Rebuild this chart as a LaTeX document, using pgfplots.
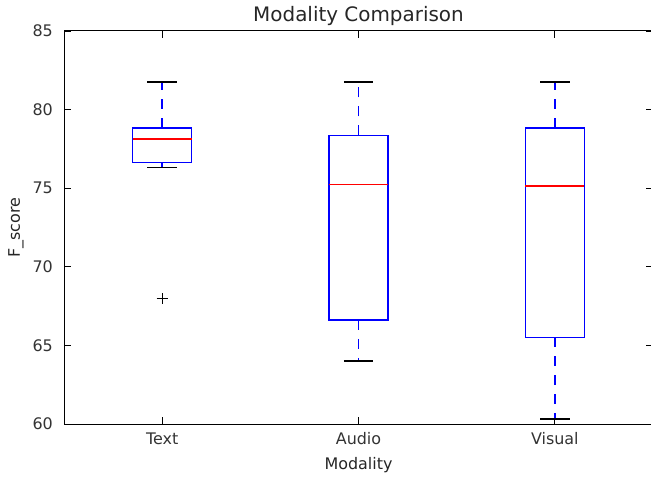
\documentclass[border=0pt]{standalone}
\usepackage{fontspec}
\setmainfont{DejaVu Sans}
\usepackage{pgfplots}
\pgfplotsset{compat=1.18}

\pgfplotsset{
  box/.style={blue, line width=1.4bp, mark=none, line join=miter},
  whisk/.style={blue, line width=1.4bp, mark=none, dash pattern=on 10bp off 9bp},
  cap/.style={black, line width=1.2bp, mark=none},
  med/.style={red, line width=1.4bp, mark=none},
  flier/.style={only marks, mark=+, mark size=5.5bp, black, mark options={line width=0.9bp}},
}

\begin{document}
\begin{tikzpicture}
\begin{axis}[
    name=ax,
    scale only axis,
    width=589bp, height=393bp,
    xmin=0.5, xmax=3.5,
    ymin=60, ymax=85,
    xtick={1,2,3},
    xticklabels={Text,Audio,Visual},
    ytick={60,65,70,75,80,85},
    tick align=inside,
    major tick length=7bp,
    tick style={black,line width=0.8bp},
    axis line style={line width=1bp},
    /pgf/number format/assume math mode=true,
    ticklabel style={font=\fontsize{16}{19}\selectfont, text=black!80},
    xticklabel style={anchor=base, inner sep=0pt, yshift=-20bp},
    yticklabel style={anchor=east, inner sep=0pt, xshift=-11bp},
    title={Modality Comparison},
    title style={at={(axis description cs:0.5,1)}, anchor=base, inner sep=0pt,
      yshift=4bp, font=\fontsize{20}{24}\selectfont, text=black!85},
    xlabel={Modality},
    xlabel style={at={(axis description cs:0.5,-0.117)}, anchor=base, inner sep=0pt,
      font=\fontsize{16}{19}\selectfont, text=black!85},
    ylabel={F\_score},
    ylabel style={at={(axis description cs:-0.0747,0.5)}, anchor=base, inner sep=0pt,
      font=\fontsize{16}{19}\selectfont, text=black!85},
]
% Text: whiskers 76.34 / 81.75, quartiles 76.62 / 78.83, median 78.14, flier 67.96
\addplot[whisk] coordinates {(1,78.83) (1,81.75)};
\addplot[whisk] coordinates {(1,76.62) (1,76.34)};
\addplot[box] coordinates {(0.85,76.62) (1.15,76.62) (1.15,78.83) (0.85,78.83)} -- cycle;
\addplot[med] coordinates {(0.85,78.14) (1.15,78.14)};
\addplot[cap] coordinates {(0.925,81.75) (1.075,81.75)};
\addplot[cap] coordinates {(0.925,76.34) (1.075,76.34)};
\addplot[flier] coordinates {(1,67.96)};

% Audio: whiskers 64.01 / 81.75, quartiles 66.62 / 78.36, median 75.24
\addplot[whisk] coordinates {(2,78.36) (2,81.75)};
\addplot[whisk] coordinates {(2,66.62) (2,64.01)};
\addplot[box] coordinates {(1.85,66.62) (2.15,66.62) (2.15,78.36) (1.85,78.36)} -- cycle;
\addplot[med] coordinates {(1.85,75.24) (2.15,75.24)};
\addplot[cap] coordinates {(1.925,81.75) (2.075,81.75)};
\addplot[cap] coordinates {(1.925,64.01) (2.075,64.01)};

% Visual: whiskers 60.32 / 81.75, quartiles 65.52 / 78.83, median 75.13
\addplot[whisk] coordinates {(3,78.83) (3,81.75)};
\addplot[whisk] coordinates {(3,65.52) (3,60.32)};
\addplot[box] coordinates {(2.85,65.52) (3.15,65.52) (3.15,78.83) (2.85,78.83)} -- cycle;
\addplot[med] coordinates {(2.85,75.13) (3.15,75.13)};
\addplot[cap] coordinates {(2.925,81.75) (3.075,81.75)};
\addplot[cap] coordinates {(2.925,60.32) (3.075,60.32)};
\end{axis}
\pgfresetboundingbox
\path[use as bounding box] ([shift={(-64bp,-53bp)}]ax.south west)
  rectangle ([shift={(587bp,31bp)}]ax.north west);
\end{tikzpicture}
\end{document}
